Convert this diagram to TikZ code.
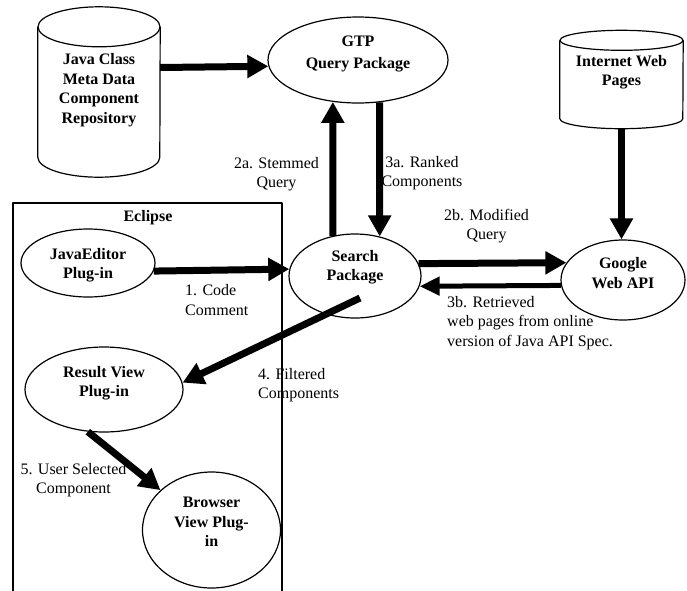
\documentclass[tikz,border=0pt]{standalone}
\usepackage{fontspec}
\setmainfont{Liberation Serif}
\usetikzlibrary{arrows.meta,shapes.geometric}
\begin{document}
\begin{tikzpicture}[x=1pt, y=-1pt, line join=round, font=\fontsize{16}{19.5}\selectfont]
	\tikzset{
		proc/.style={draw, ellipse, line width=1.2pt, inner sep=0pt},
		ttl/.style={font=\fontsize{16}{19.5}\selectfont\bfseries, align=center},
		msg/.style={inner sep=0pt},
		flow/.style={line width=7pt, -{Triangle[length=21pt,width=22pt]}},
		back/.style={line width=5pt, -{Triangle[length=20pt,width=18pt]}}
	}
	\useasboundingbox (0,0) rectangle (687,590);
	% data stores
	\node [minimum width=122, minimum height=130, inner sep=0pt,
		label={[ttl,yshift=2pt]center:{Java Class\\Meta Data\\Component\\Repository}}] (jcls) at (99,92) {};
	\node [minimum width=123, minimum height=78, inner sep=0pt,
		label={[ttl,yshift=7.5pt]center:{Internet Web\\Pages}}] (inet) at (621.5,79.5) {};
	\foreach \n/\rx/\ry in {jcls/61/20, inet/61.5/10}{
		\draw [line width=1.2pt] (\n.north west)--(\n.south west) arc [start angle=180, end angle=360, x radius=\rx pt, y radius=\ry pt]--(\n.north east);
		\draw [line width=1.2pt] (\n.north) ellipse [x radius=\rx pt, y radius=\ry pt];
	}
	% eclipse frame
	\draw [line width=1.2pt] (13,592)--(13,203)--(282,203)--(282,592);
	\node [ttl] (ecl) at (148,218) {Eclipse};
	% processes
	\node [proc, minimum width=180, minimum height=86, label={[ttl,yshift=6pt]center:{GTP\\[3pt]Query Package}}] (gtp) at (358,60) {};
	\node [proc, minimum width=132, minimum height=84, label={[ttl,yshift=9pt]center:{Search\\Package}}] (srch) at (355,276) {};
	\node [proc, minimum width=124, minimum height=80, label={[ttl,yshift=7pt]center:{Google\\Web API}}] (ggl) at (623,280) {};
	\node [proc, minimum width=134, minimum height=68, label={[ttl,yshift=-2pt]center:{JavaEditor\\Plug-in}}] (jed) at (88,263) {};
	\node [proc, minimum width=158, minimum height=85, label={[ttl,yshift=6.5pt]center:{Result View\\Plug-in}}] (rview) at (104,389.5) {};
	\node [proc, minimum width=138, minimum height=116, label={[ttl,yshift=8pt]center:{Browser\\View Plug-\\in}}] (brow) at (211.5,530) {};
	% flows
	\draw [flow] ([yshift=24.5pt]jcls.east)--(gtp.184.8);
	\draw [flow] (inet.south)++(0,10)--(inet.south |- ggl.north);
	\draw [flow] (srch.119)--(gtp.239);
	\draw [flow] (gtp.297)--(srch.58.5);
	\draw [flow] (srch.11.7)--(ggl.163.1);
	\draw [back] (ggl.185.6)--(srch.351.1);
	\draw [flow] (jed.353.9)--(srch.174.75);
	\draw [flow] ([shift={(5,22)}]srch.center)--(rview.5);
	\draw [flow] (rview.249)--(brow.142);
	% messages
	\node [msg, align=center] (m2a) at (276.5,174) {2a. Stemmed\\Query};
	\node [msg, align=center] (m3a) at (422,173) {3a. Ranked\\Components};
	\node [msg, align=center] (m2b) at (486.5,226) {2b. Modified\\Query};
	\node [msg, align=left, anchor=west] (m3b) at (447,323) {3b. Retrieved\\web pages from online\\version of Java API Spec.};
	\node [msg, align=left, anchor=west] (m1) at (185,300) {1. Code\\Comment};
	\node [msg, align=left, anchor=west] (m4) at (258,385) {4. Filtered\\Components};
	\node [msg, align=center] (m5) at (73.5,480) {5. User Selected\\Component};
\end{tikzpicture}
\end{document}
